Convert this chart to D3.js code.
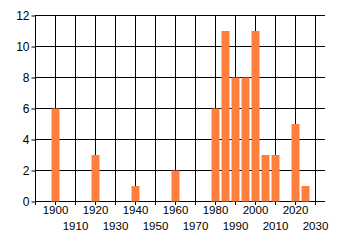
<!DOCTYPE html>
<html>
<head>
<meta charset="utf-8">
<script src="https://cdn.jsdelivr.net/npm/d3@7"></script>
<style>
  body { margin: 0; background: #fff; }
  text { font-family: "Liberation Sans", Arial, sans-serif; font-size: 11px; fill: #000; }
</style>
</head>
<body>
<div id="chart"></div>
<script>
const w = 340;
const h = 245;

// data
const years = [1900, 1920, 1940, 1960, 1980, 1985, 1990, 1995, 2000, 2005, 2010, 2020, 2025];
const counts = [6, 3, 1, 2, 6, 11, 8, 8, 11, 3, 3, 5, 1];
const xTicks = [1890, 1900, 1910, 1920, 1930, 1940, 1950, 1960, 1970, 1980, 1990, 2000, 2010, 2020, 2030];
const yTicks = [0, 2, 4, 6, 8, 10, 12];

const xScale = d3.scaleLinear().domain([1890, 2035]).range([35, 325]);
const yScale = d3.scaleLinear().domain([0, 12]).range([201, 15]);

const svg = d3.select("#chart")
  .append("svg")
  .attr("width", w)
  .attr("height", h);

// grid
svg.append("g")
  .selectAll("line")
  .data(yTicks)
  .enter()
  .append("line")
  .attr("x1", xScale(1890))
  .attr("x2", xScale(2035))
  .attr("y1", d => Math.round(yScale(d)) + 0.5)
  .attr("y2", d => Math.round(yScale(d)) + 0.5)
  .attr("stroke", "#000");

svg.append("g")
  .selectAll("line")
  .data(xTicks)
  .enter()
  .append("line")
  .attr("x1", d => Math.round(xScale(d)) + 0.5)
  .attr("x2", d => Math.round(xScale(d)) + 0.5)
  .attr("y1", yScale(12))
  .attr("y2", yScale(0) + 4)
  .attr("stroke", "#000");

// bars
const barW = xScale(1904) - xScale(1900);
svg.selectAll("rect")
  .data(years)
  .enter()
  .append("rect")
  .attr("fill", "#ff7f3f")
  .attr("x", d => xScale(d) - barW / 2 + 0.5)
  .attr("width", barW)
  .attr("y", (d, i) => yScale(counts[i]) + 0.5)
  .attr("height", (d, i) => yScale(0) - yScale(counts[i]));

// y axis
const yAxis = d3.axisLeft(yScale).tickValues(yTicks).tickSize(4).tickPadding(2);
svg.append("g")
  .attr("transform", "translate(35.5,0.5)")
  .call(yAxis)
  .call(g => g.select(".domain").remove())
  .call(g => g.selectAll("line").attr("stroke", "#000"))
  .call(g => g.selectAll("text").attr("font-size", null).attr("font-family", null).style("font-size", "12px"));

// x labels, staggered over two rows
svg.append("g")
  .selectAll("text")
  .data(xTicks.filter(d => d > 1890))
  .enter()
  .append("text")
  .attr("x", d => xScale(d) + 0.5)
  .attr("y", d => (d % 20 === 0) ? 214 : 230)
  .attr("text-anchor", "middle")
  .style("font-size", "11.5px")
  .text(d => d);
</script>
</body>
</html>
